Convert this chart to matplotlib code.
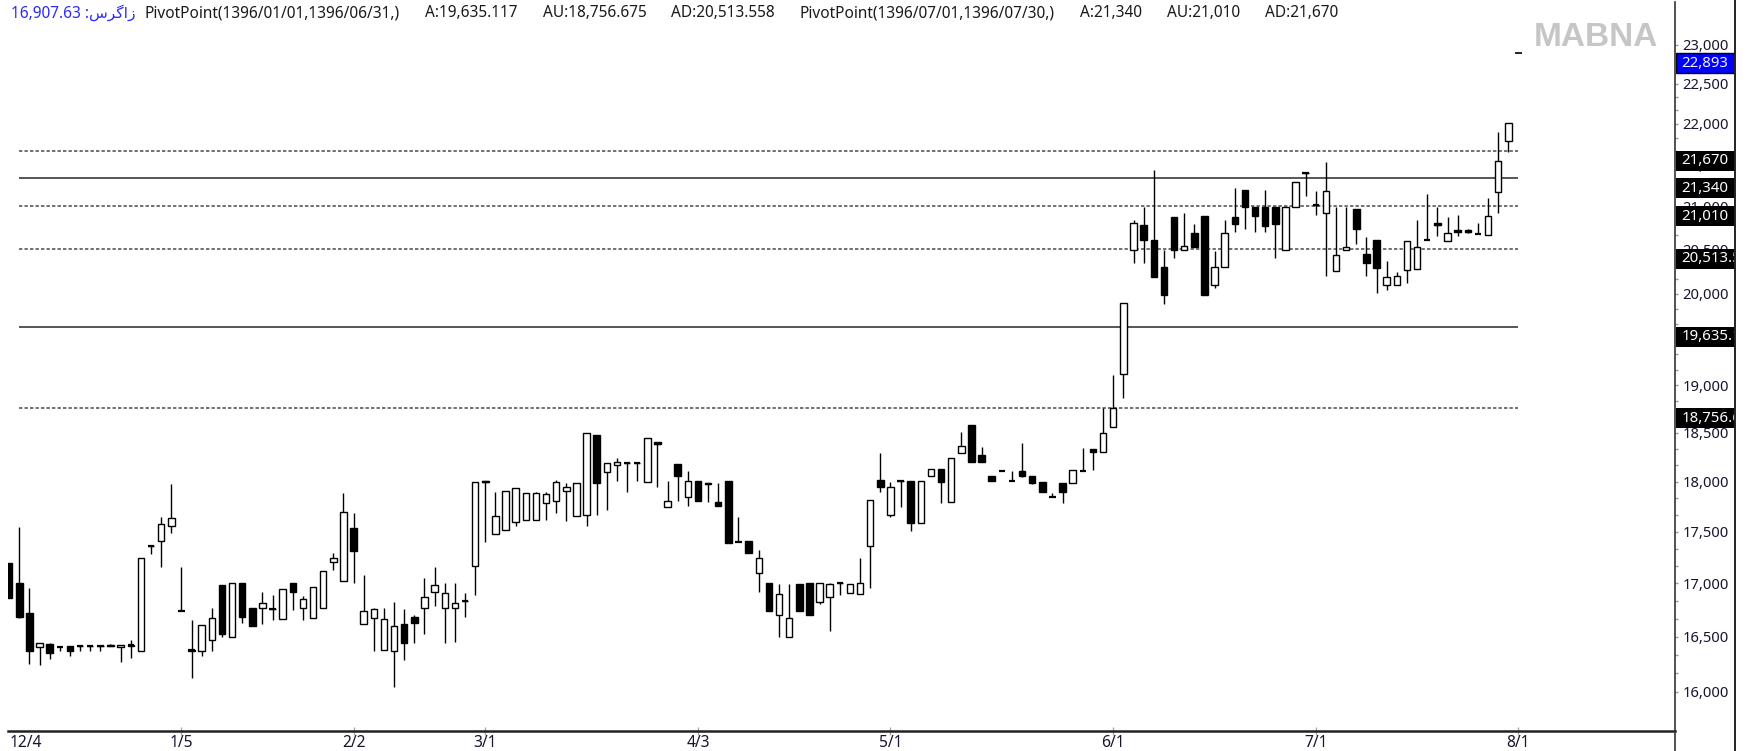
import numpy as np
import matplotlib
matplotlib.use("Agg")
import matplotlib.pyplot as plt
from matplotlib.patches import Rectangle
from matplotlib.lines import Line2D
from matplotlib.ticker import FixedLocator, FuncFormatter, NullFormatter

# ---------------- data ----------------
opens = [17200, 17009, 16725, 16403, 16433, 16408, 16415, 16415, 16415, 16415,
         16420, 16403, 16418, 16372, 17362, 17409, 17561, 16743, 16372, 16372,
         16470, 16987, 16500, 17003, 16766, 16766, 16760, 16662, 17003, 16766,
         16678, 16766, 17209, 17028, 17535, 16616, 16678, 16379, 16372, 16619,
         16687, 16766, 16923, 16766, 16766, 16835, 17169, 18005, 17474, 17519,
         17600, 17617, 17620, 17788, 17808, 17905, 17657, 17667, 18477, 18096,
         18170, 18193, 18193, 18000, 18400, 17748, 18179, 17848, 18007, 17984,
         17798, 18007, 17405, 17409, 17104, 17009, 16703, 16495, 16994, 17009,
         16822, 16870, 17003, 16914, 16898, 17365, 18017, 17667, 18007, 18007,
         17590, 18052, 18127, 17798, 18289, 18582, 18272, 18052, 18103, 18010,
         18103, 18058, 18000, 17843, 17990, 17984, 18103, 18330, 18306, 18565,
         19121, 20499, 20788, 20616, 20308, 20885, 20499, 20697, 20896, 20103,
         20301, 20885, 21200, 21003, 21003, 21003, 20499, 21003, 21407, 21023,
         20930, 20262, 20499, 20973, 20449, 20608, 20103, 20103, 20269, 20277,
         20608, 20810, 20596, 20730, 20725, 20680, 20671, 21173, 21791]
highs = [17200, 17551, 16961, 16445, 16440, 16408, 16415, 16415, 16415, 16415,
         16430, 16427, 16470, 17242, 17362, 17643, 17974, 17156, 16656, 16610,
         16772, 16987, 17003, 17003, 16766, 16917, 16891, 16945, 17003, 16884,
         16970, 17121, 17297, 17883, 17689, 17082, 16772, 16772, 16828, 16757,
         16700, 17050, 17156, 17003, 17003, 16914, 18000, 18005, 17899, 17905,
         17933, 17888, 17899, 17899, 18017, 17990, 17990, 18495, 18477, 18193,
         18238, 18193, 18193, 18450, 18400, 18007, 18179, 18103, 18007, 17984,
         17990, 18007, 17643, 17409, 17323, 17009, 16994, 16994, 16994, 17009,
         17003, 17009, 17003, 16994, 17249, 17815, 18295, 18000, 18007, 18007,
         18007, 18127, 18127, 18238, 18512, 18582, 18357, 18052, 18103, 18103,
         18392, 18058, 18000, 17883, 17990, 18113, 18340, 18330, 18756, 19110,
         19895, 20847, 21003, 21440, 20499, 20885, 20925, 20799, 20896, 20487,
         20847, 21221, 21200, 21003, 21200, 21003, 21003, 21299, 21407, 21192,
         21533, 21003, 21003, 20973, 20647, 20608, 20375, 20251, 20596, 20847,
         21153, 21003, 20885, 20904, 20740, 20815, 21109, 21898, 22009]
lows = [16860, 16672, 16250, 16238, 16293, 16372, 16325, 16372, 16372, 16372,
        16410, 16270, 16302, 16372, 17284, 17162, 17486, 16743, 16120, 16325,
        16372, 16495, 16500, 16631, 16603, 16616, 16656, 16662, 16750, 16656,
        16678, 16766, 17130, 17028, 17009, 16616, 16372, 16379, 16045, 16286,
        16439, 16526, 16787, 16439, 16454, 16687, 16891, 17405, 17474, 17519,
        17561, 17617, 17617, 17617, 17689, 17606, 17657, 17561, 17667, 17716,
        18010, 17899, 18010, 18000, 17949, 17748, 17808, 17758, 17808, 17798,
        17755, 17389, 17405, 17296, 16923, 16743, 16495, 16495, 16743, 16703,
        16806, 16556, 16891, 16914, 16898, 16955, 17899, 17643, 17748, 17512,
        17590, 18052, 17788, 17798, 18289, 18203, 18203, 18010, 18103, 18010,
        18045, 17980, 17899, 17843, 17788, 17984, 18103, 18113, 18306, 18565,
        18862, 20346, 20346, 20194, 19887, 20403, 20499, 20537, 19988, 20066,
        20301, 20709, 20736, 20702, 20702, 20403, 20499, 21003, 21129, 20904,
        20202, 20262, 20499, 20566, 20202, 20014, 20045, 20103, 20125, 20277,
        20608, 20659, 20596, 20659, 20700, 20680, 20671, 20925, 21661]
closes = [16860, 16687, 16372, 16445, 16348, 16408, 16372, 16412, 16412, 16412,
          16418, 16427, 16420, 17242, 17360, 17577, 17637, 16743, 16375, 16610,
          16678, 16526, 17003, 16687, 16603, 16813, 16762, 16945, 16923, 16851,
          16970, 17121, 17242, 17699, 17313, 16735, 16757, 16665, 16600, 16439,
          16631, 16870, 16987, 16914, 16819, 16837, 18000, 17995, 17657, 17905,
          17933, 17888, 17890, 17872, 18000, 17949, 17990, 18495, 17984, 18193,
          18203, 18190, 18190, 18450, 18380, 17808, 18052, 18007, 17808, 17980,
          17755, 17389, 17405, 17296, 17242, 16743, 16901, 16678, 16743, 16703,
          17003, 16994, 17000, 16994, 17009, 17815, 17944, 17949, 18004, 17590,
          18007, 18127, 18000, 18238, 18364, 18203, 18203, 18010, 18103, 18010,
          18058, 17984, 17899, 17843, 17899, 18113, 18103, 18306, 18495, 18756,
          19895, 20808, 20608, 20194, 19988, 20499, 20548, 20537, 19988, 20301,
          20697, 20799, 21003, 20893, 20771, 20799, 21003, 21299, 21400, 21025,
          21192, 20441, 20530, 20740, 20346, 20289, 20194, 20202, 20596, 20537,
          20608, 20790, 20690, 20705, 20710, 20680, 20896, 21552, 22009]
last_price = 22893
last_price_text = "22,893"

pivot_solid = [19635.117, 21340]
pivot_dashed = [18756.675, 20513.558, 21010, 21670]
box_values = [21670, 21340, 21010, 20513.558, 19635.117, 18756.675]
box_labels = ["21,670", "21,340", "21,010", "20,513.558", "19,635.117", "18,756.675"]

xtick_pos = [0, 17, 34, 47, 68, 87, 109, 129, 149]
xtick_labels = ["12/4", "1/5", "2/2", "3/1", "4/3", "5/1", "6/1", "7/1", "8/1"]
ytick_values = [16000, 16500, 17000, 17500, 18000, 18500, 19000, 19500,
                20000, 20500, 21000, 21500, 22000, 22500, 23000]

header_blue = "16,907.63 :" + "\uFEB1\uFEAE\uFB94\uFE8D\uFEAF"
header_parts = ["PivotPoint(1396/01/01,1396/06/31,)", "A:19,635.117", "AU:18,756.675",
                "AD:20,513.558", "PivotPoint(1396/07/01,1396/07/30,)", "A:21,340",
                "AU:21,010", "AD:21,670"]

# ---------------- figure ----------------
plt.rcParams['font.family'] = ['Noto Sans', 'DejaVu Sans']
W, H = 1749, 751
fig = plt.figure(figsize=(W / 100, H / 100), dpi=100)
fig.patch.set_facecolor('white')

def fx(px):
    return px / W

def fy(py):
    return 1 - py / H

ax = fig.add_axes([fx(8.5), fy(730.6), fx(1675) - fx(8.5), fy(2) - fy(730.6)])
ax.set_yscale('log')
ax.set_ylim(15653, 23558)
ax.set_xlim(-0.07, 164.46)

o = np.array(opens, float)
h = np.array(highs, float)
l = np.array(lows, float)
c = np.array(closes, float)
idx = np.arange(len(o))
bw = 0.64

# pivot lines
x_start, x_end = 1, 149
ax.hlines(pivot_solid, x_start, x_end, colors='#3a3a3a', lw=1.2, zorder=1)
ax.hlines(pivot_dashed, x_start, x_end, colors='#4a4a4a', lw=1.1,
          linestyles=(0, (2.2, 1.4)), zorder=1)

# wicks
ax.vlines(idx, l, h, color='black', lw=1.0, zorder=2)
bottoms = np.minimum(o, c)
tops = np.maximum(o, c)
up = c > o
down = c < o
ax.bar(idx[up], tops[up] - bottoms[up], bottom=bottoms[up], width=bw,
       facecolor='white', edgecolor='black', lw=1.0, zorder=3)
ax.bar(idx[down], tops[down] - bottoms[down], bottom=bottoms[down], width=bw,
       facecolor='black', edgecolor='black', lw=1.0, zorder=3)
flat = np.abs(c - o) / o < 0.0012
ax.hlines(c[flat], idx[flat] - bw / 2, idx[flat] + bw / 2, colors='black', lw=1.6, zorder=4)
# current price dash
ax.hlines([last_price], len(o) - bw / 2, len(o) + bw / 2, colors='black', lw=1.2, zorder=4)

# axes styling
for s in ['top', 'left']:
    ax.spines[s].set_visible(False)
ax.spines['bottom'].set_linewidth(1.8)
ax.spines['bottom'].set_color('#222222')
ax.spines['right'].set_linewidth(1.2)
ax.spines['right'].set_color('#333333')

ax.yaxis.tick_right()
ax.yaxis.set_major_locator(FixedLocator(ytick_values))
ax.yaxis.set_major_formatter(FuncFormatter(lambda v, p: f"{v:,.0f}"))
minor = [v + k * 500 / 3 for v in ytick_values[:-1] for k in (1, 2)]
ax.yaxis.set_minor_locator(FixedLocator(minor))
ax.yaxis.set_minor_formatter(NullFormatter())
ax.tick_params(axis='y', which='both', direction='out', length=2.5, width=1,
               color='#9a9a9a', labelsize=10.6, labelcolor='#15152e', pad=3.0)

ax.set_xticks(xtick_pos)
ax.set_xticklabels(xtick_labels)
ax.tick_params(axis='x', direction='inout', length=6, width=1, color='#aaaaaa',
               labelsize=11.2, labelcolor='#15152e', pad=0.3)
ax.get_xticklabels()[0].set_ha('left')
ax.xaxis.get_major_ticks()[0].tick1line.set_visible(False)

# extra frame lines
fig.add_artist(Line2D([fx(1675), fx(1675)], [0, fy(730.6)], color='#333333', lw=1.2))
fig.add_artist(Line2D([fx(1735.5), fx(1735.5)], [0, 1], color='#222222', lw=1.4))

# right panel with labelled boxes
axr = fig.add_axes([fx(1675.6), 0, fx(1735) - fx(1675.6), 1])
axr.set_xlim(0, 59.4)
axr.set_ylim(0, H)
axr.axis('off')

def price_px(p):
    return ax.transData.transform((0, p))[1]

for val, lab in zip(box_values, box_labels):
    Y = price_px(val)
    axr.add_patch(Rectangle((0, Y - 20), 59.4, 20, facecolor='black', edgecolor='none'))
    axr.text(6.0, Y - 10, lab, color='white', fontsize=10.8, ha='left', va='center',
             clip_on=True)

Y = price_px(last_price)
axr.add_patch(Rectangle((0, Y - 20), 59.4, 20, facecolor='#0000ff', edgecolor='black', lw=1))
axr.text(6.0, Y - 10, last_price_text, color='#f0f0ff', fontsize=10.8, ha='left', va='center',
         clip_on=True)

# watermark
fig.text(fx(1596), fy(38), "MABNA", fontsize=24, fontweight='bold', color='#c6c6c6',
         ha='center', va='center', family=['Liberation Sans', 'DejaVu Sans'])

# header: blue quote, then the pivot texts evenly spaced up to the right end
renderer = fig.canvas.get_renderer()
fs = 11.1
fig.text(fx(11), fy(13), header_blue, color='#2a2aff', fontsize=fs, ha='left', va='center')
parts = [fig.text(0, fy(13), t, color='#1a1a1a', fontsize=fs, ha='left', va='center')
         for t in header_parts]
widths = [p.get_window_extent(renderer).width for p in parts]
start_px, end_px = 145, 1338
gap = (end_px - start_px - sum(widths)) / (len(parts) - 1)
xp = start_px
for p, w in zip(parts, widths):
    p.set_x(fx(xp))
    xp += w + gap

fig.savefig("out.png", dpi=100, facecolor='white')
